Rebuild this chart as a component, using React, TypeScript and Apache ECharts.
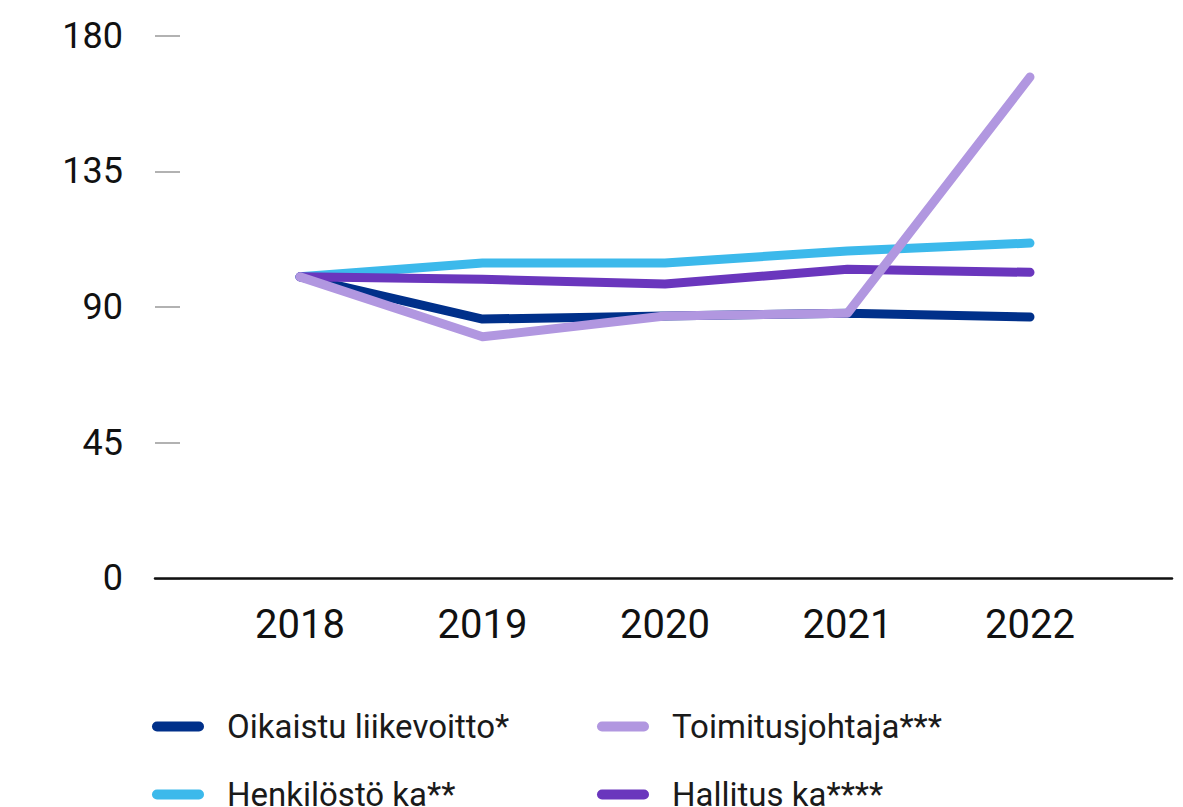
import React, { useEffect, useRef } from "react";
import * as echarts from "echarts";

const years = ["2018", "2019", "2020", "2021", "2022"];
const oikaistu = [100, 86.0, 87.0, 87.9, 86.7];
const henkilosto = [100, 104.6, 104.6, 108.6, 111.2];
const hallitus = [100, 99.2, 97.6, 102.5, 101.5];
const toimitusjohtaja = [100, 80.1, 87.0, 87.9, 166.3];
const yTicks = [0, 45, 90, 135, 180];

const names = ["Oikaistu liikevoitto*", "Henkilöstö ka**", "Hallitus ka****", "Toimitusjohtaja***"];

const FONT = "Roboto";
const pill = "path://M5,0 H47 A5,5 0 0 1 47,10 H5 A5,5 0 0 1 5,0 Z";

export default function App() {
  const ref = useRef<HTMLDivElement>(null);
  useEffect(() => {
    if (!ref.current) return;
    const chart = echarts.init(ref.current, undefined, { renderer: "svg" });
    const mk = (name: string, data: number[], color: string) => ({
      name,
      type: "line",
      xAxisIndex: 0,
      yAxisIndex: 0,
      data,
      showSymbol: false,
      symbol: "none",
      lineStyle: { color, width: 9, cap: "round", join: "round" },
      itemStyle: { color },
    });
    const leg = (name: string, left: number, top: number) => ({
      orient: "horizontal",
      left,
      top,
      itemWidth: 52,
      itemHeight: 10,
      icon: pill,
      data: [name],
      textStyle: { fontFamily: FONT, fontSize: 33, color: "#1a1a1a", padding: [0, 0, 0, 18] },
    });
    chart.setOption({
      animation: false,
      backgroundColor: "#ffffff",
      grid: [
        { left: 208.75, right: 61.75, top: 35.7, bottom: 228.7 },
        { left: 155, right: 11, top: 35.7, bottom: 228.7 },
      ],
      xAxis: [
        {
          type: "category",
          gridIndex: 0,
          data: years,
          boundaryGap: true,
          axisLine: { show: false },
          axisTick: { show: false },
          axisLabel: { fontFamily: FONT, fontSize: 40, color: "#111", margin: 26 },
        },
        {
          type: "value",
          gridIndex: 1,
          min: 0,
          max: 1,
          z: 5,
          axisLine: { show: true, lineStyle: { color: "#111", width: 2.5 } },
          axisTick: { show: false },
          axisLabel: { show: false },
          splitLine: { show: false },
        },
      ],
      yAxis: [
        {
          type: "value",
          gridIndex: 0,
          min: 0,
          max: 180,
          interval: 45,
          show: false,
        },
        {
          type: "value",
          gridIndex: 1,
          min: yTicks[0],
          max: yTicks[yTicks.length - 1],
          interval: 45,
          z: 1,
          axisLine: { show: false },
          axisTick: { show: true, inside: true, length: 25, lineStyle: { color: "#999", width: 1.5 } },
          axisLabel: { fontFamily: FONT, fontSize: 36, color: "#111", margin: 32 },
          splitLine: { show: false },
        },
      ],
      legend: [
        leg(names[0], 147, 705),
        leg(names[1], 147, 773),
        leg(names[3], 592, 705),
        leg(names[2], 592, 773),
      ],
      series: [
        mk(names[0], oikaistu, "#00308A"),
        mk(names[1], henkilosto, "#3CB9EB"),
        mk(names[2], hallitus, "#6A36BD"),
        mk(names[3], toimitusjohtaja, "#B197E0"),
      ],
    });
    return () => chart.dispose();
  }, []);
  return <div ref={ref} style={{ width: 1183, height: 807, position: "absolute", left: 0, top: 0 }} />;
}
